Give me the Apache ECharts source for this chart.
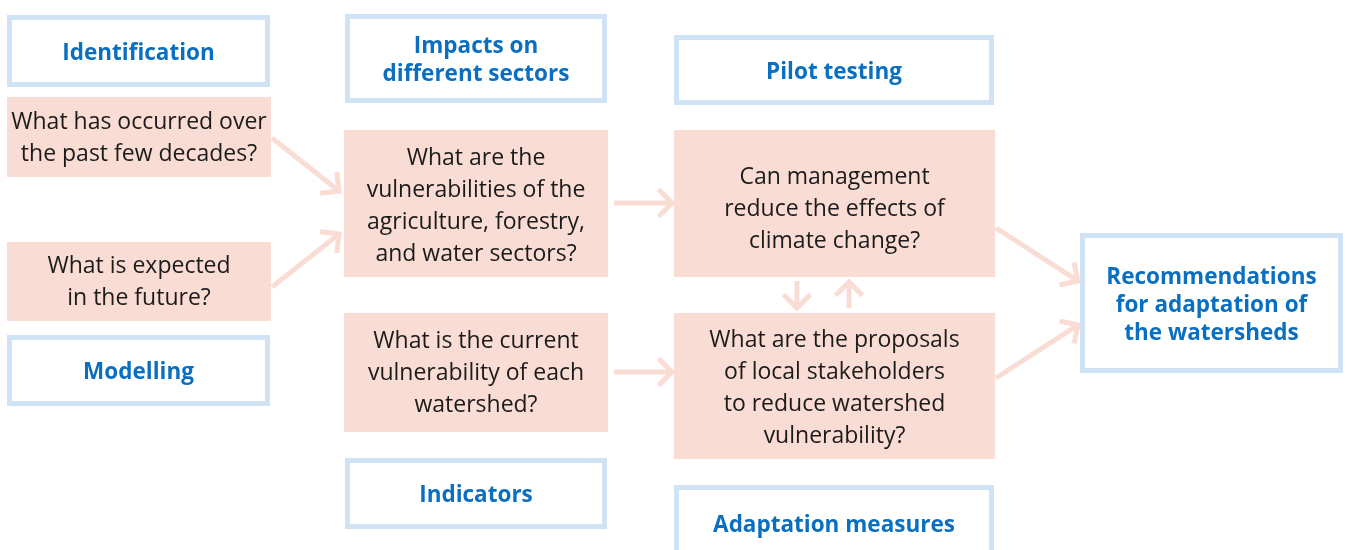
<!DOCTYPE html>
<html><head><meta charset="utf-8">
<script src="https://cdn.jsdelivr.net/npm/echarts@6/dist/echarts.min.js"></script>
<style>html,body{margin:0;padding:0;background:#fff}#c{width:1346px;height:550px}</style>
</head><body><div id="c"></div>
<script>
// Box texts (\n separates lines)
const headingTexts = [
  'Identification',
  'Modelling',
  'Impacts on\ndifferent sectors',
  'Indicators',
  'Pilot testing',
  'Adaptation measures',
  'Recommendations\nfor adaptation of\nthe watersheds'
];
// heading boxes [x0, y0, x1, y1] in diagram units
const headingBoxes = [
  [7, 15, 270, 87],
  [7, 335, 270, 406],
  [345, 14, 607, 103],
  [345, 458, 607, 529],
  [674, 35, 994, 105],
  [674, 485, 994, 562],
  [1080, 233, 1343, 373]
];
const questionTexts = [
  'What has occurred over\nthe past few decades?',
  'What is expected\nin the future?',
  'What are the\nvulnerabilities of the\nagriculture, forestry,\nand water sectors?',
  'What is the current\nvulnerability of each\nwatershed?',
  'Can management\nreduce the effects of\nclimate change?',
  'What are the proposals\nof local stakeholders\nto reduce watershed\nvulnerability?'
];
const questionBoxes = [
  [7, 97, 271, 177],
  [7, 242, 271, 321],
  [344, 130, 608, 277],
  [344, 313, 608, 432],
  [674, 130, 995, 277],
  [674, 313, 995, 459]
];
// arrows [xStart, yStart, xEnd, yEnd]
const arrows = [
  [272, 138, 339, 191],
  [272, 287, 339, 234],
  [614, 203, 672, 203],
  [614, 372, 672, 372],
  [797, 281, 797, 308],
  [849, 308, 849, 282],
  [996, 228, 1078, 281],
  [996, 378, 1078, 325]
];

const BLUE_LINE = '#cfe3f4';
const BLUE_TEXT = '#0a6fc1';
const PINK = '#f9dcd3';
const questionTextShift = [1, 1, 3, 1, 6, 2];

function boxRender(kind, texts) {
  return function (params, api) {
    const p0 = api.coord([api.value(0), api.value(1)]);
    const p1 = api.coord([api.value(2), api.value(3)]);
    const x = Math.min(p0[0], p1[0]), y = Math.min(p0[1], p1[1]);
    const w = Math.abs(p1[0] - p0[0]), h = Math.abs(p1[1] - p0[1]);
    const txt = texts[params.dataIndex];
    const isHead = kind === 'head';
    const bw = 5;
    const dy = isHead ? 2.5 : questionTextShift[params.dataIndex];
    return {
      type: 'group',
      children: [
        {
          type: 'rect',
          shape: isHead ? { x: x + bw / 2, y: y + bw / 2, width: w - bw, height: h - bw } : { x: x, y: y, width: w, height: h },
          style: isHead ? { fill: '#fff', stroke: BLUE_LINE, lineWidth: bw } : { fill: PINK, stroke: null }
        },
        {
          type: 'text',
          x: x + w / 2,
          y: y + h / 2 + dy,
          style: {
            text: txt,
            align: 'center',
            verticalAlign: 'middle',
            fill: isHead ? BLUE_TEXT : '#1b1b1b',
            font: isHead ? 'bold 22.5px "Open Sans"' : '23px "Open Sans"',
            lineHeight: isHead ? 28 : 32
          }
        }
      ]
    };
  };
}

function arrowRender(params, api) {
  const a = api.coord([api.value(0), api.value(1)]);
  const b = api.coord([api.value(2), api.value(3)]);
  const ang = Math.atan2(b[1] - a[1], b[0] - a[0]);
  const L = 19;
  const l1 = [b[0] - L * Math.cos(ang - Math.PI / 4), b[1] - L * Math.sin(ang - Math.PI / 4)];
  const l2 = [b[0] - L * Math.cos(ang + Math.PI / 4), b[1] - L * Math.sin(ang + Math.PI / 4)];
  const st = { stroke: PINK, lineWidth: 5, fill: null, lineJoin: 'miter', lineCap: 'butt' };
  return {
    type: 'group',
    children: [
      { type: 'line', shape: { x1: a[0], y1: a[1], x2: b[0] - 3 * Math.cos(ang), y2: b[1] - 3 * Math.sin(ang) }, style: st },
      { type: 'polyline', shape: { points: [l1, b, l2] }, style: st }
    ]
  };
}

const chart = echarts.init(document.getElementById('c'), null, { renderer: 'canvas' });
chart.setOption({
  backgroundColor: '#fff',
  animation: false,
  grid: { left: 0, right: 0, top: 0, bottom: 0 },
  xAxis: { type: 'value', min: 0, max: 1346, show: false },
  yAxis: { type: 'value', min: 0, max: 550, inverse: true, show: false },
  series: [
    { type: 'custom', renderItem: arrowRender, data: arrows, clip: false, silent: true, z: 1 },
    { type: 'custom', renderItem: boxRender('q', questionTexts), data: questionBoxes, clip: false, silent: true, z: 2 },
    { type: 'custom', renderItem: boxRender('head', headingTexts), data: headingBoxes, clip: false, silent: true, z: 3 }
  ]
});
</script></body></html>
